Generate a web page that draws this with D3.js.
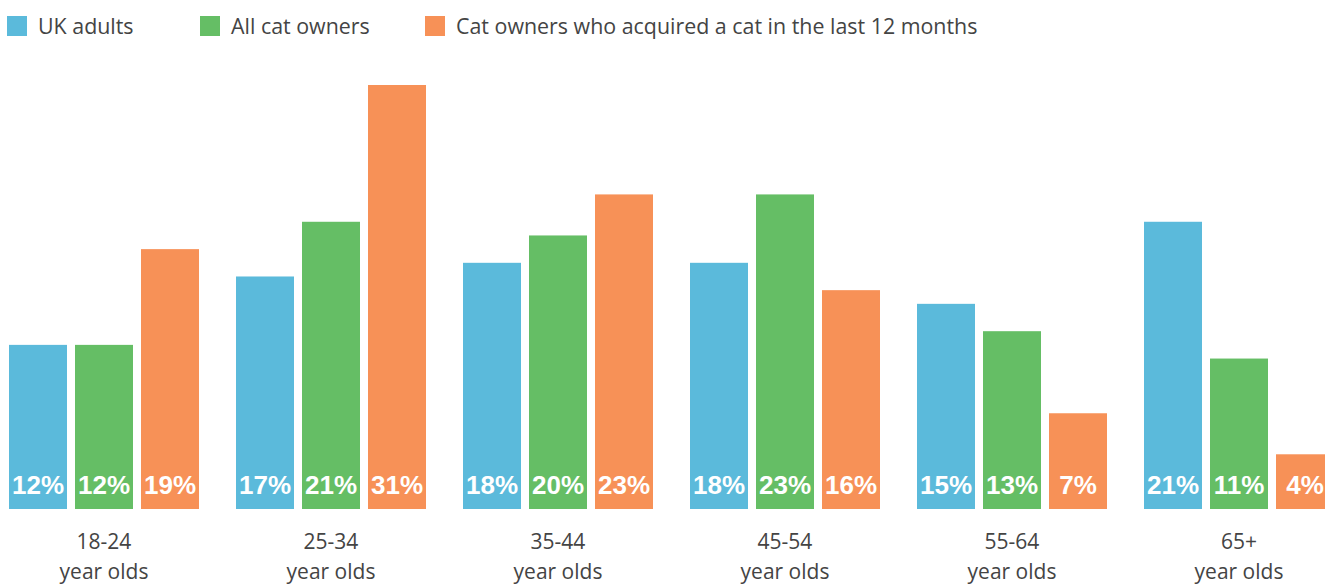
<!DOCTYPE html>
<html>
<head>
<meta charset="utf-8">
<script src="https://cdn.jsdelivr.net/npm/d3@7"></script>
<style>
	body { margin: 0; background: #fff; }
	svg { display: block; }
</style>
</head>
<body>
<div id="viz"></div>
<script>
// data
let groups = ["18-24", "25-34", "35-44", "45-54", "55-64", "65+"];
let series = ["UK adults", "All cat owners", "Cat owners who acquired a cat in the last 12 months"];
let ukAdults = [12, 17, 18, 18, 15, 21];
let catOwners = [12, 21, 20, 23, 13, 11];
let newOwners = [19, 31, 23, 16, 7, 4];
let colors = ["#5bbadb", "#65be65", "#f79157"];

let values = [ukAdults, catOwners, newOwners];

function draw() {
	let sizeX = 1325;
	let sizeY = 584;
	let base = 509;

	let svg = d3.select("#viz").append("svg")
		.attr("width", sizeX).attr("height", sizeY);

	let x0 = d3.scaleBand()
		.domain(groups)
		.range([9, 9 + 6 * 227 - 37])
		.paddingInner(37 / 227)
		.paddingOuter(0);

	let x1 = d3.scaleBand()
		.domain(d3.range(series.length))
		.range([0, x0.bandwidth()])
		.paddingInner(8 / 66)
		.paddingOuter(0);

	let y = d3.scaleLinear().domain([0, 31]).range([base, 85]);

	// legend
	let legendX = [7, 200, 425];
	let leg = svg.selectAll("g.leg").data(series).enter().append("g")
		.attr("class", "leg")
		.attr("transform", (d, i) => "translate(" + legendX[i] + ",16)");
	leg.append("rect")
		.attr("width", 20).attr("height", 20)
		.style("fill", (d, i) => colors[i]);
	leg.append("text").text(d => d)
		.attr("x", 31).attr("y", 18)
		.style("fill", "#444")
		.style("font-size", "21.4px")
		.style("font-family", "Open Sans");

	// bars
	let g = svg.selectAll("g.grp").data(groups).enter().append("g")
		.attr("class", "grp")
		.attr("transform", d => "translate(" + x0(d) + ",0)");

	g.selectAll("rect").data((d, gi) => series.map((s, si) => ({ si: si, v: values[si][gi] })))
		.enter().append("rect")
		.attr("x", d => x1(d.si))
		.attr("y", d => y(d.v))
		.attr("width", x1.bandwidth())
		.attr("height", d => base - y(d.v))
		.style("fill", d => colors[d.si]);

	g.selectAll("text.pct").data((d, gi) => series.map((s, si) => ({ si: si, v: values[si][gi] })))
		.enter().append("text")
		.attr("class", "pct")
		.text(d => d.v + "%")
		.attr("x", d => x1(d.si) + x1.bandwidth() / 2)
		.attr("y", 494)
		.attr("text-anchor", "middle")
		.style("fill", "#fff")
		.style("font-size", "26px")
		.style("font-weight", "bold")
		.style("font-family", "Liberation Sans");

	// category labels
	g.append("text").text(d => d)
		.attr("x", x0.bandwidth() / 2).attr("y", 549)
		.attr("text-anchor", "middle")
		.style("fill", "#444")
		.style("font-size", "21px")
		.style("font-family", "Open Sans");

	g.append("text").text("year olds")
		.attr("x", x0.bandwidth() / 2).attr("y", 579)
		.attr("text-anchor", "middle")
		.style("fill", "#444")
		.style("font-size", "21px")
		.style("font-family", "Open Sans");
}
draw();
</script>
</body>
</html>
